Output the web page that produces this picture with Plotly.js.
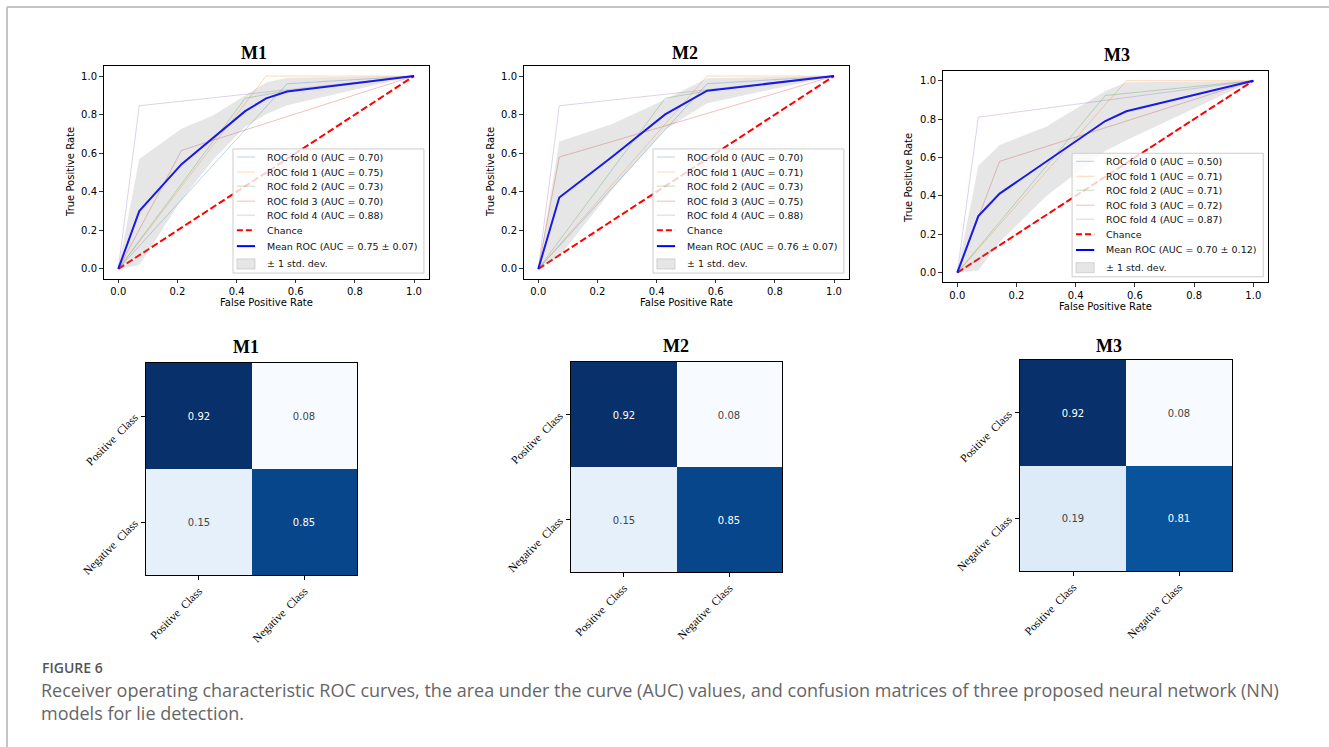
<!DOCTYPE html>
<html>
<head>
<meta charset="utf-8">
<script src="https://cdn.plot.ly/plotly-3.0.1.min.js"></script>
<style>
html,body{margin:0;padding:0;background:#fff;}
#chart{width:1329px;height:747px;}
</style>
</head>
<body>
<div id="chart"></div>
<script>
// ---------------- DATA ----------------
const models = ["M1", "M2", "M3"];
const rocTicks = [0, 0.2, 0.4, 0.6, 0.8, 1.0];
const rocTickText = ["0.0", "0.2", "0.4", "0.6", "0.8", "1.0"];

// M1 folds
const m1FoldFpr = [[0, 0.571, 1], [0, 0.5, 1], [0, 0.429, 0.571, 1], [0, 0.214, 1], [0, 0.071, 1]];
const m1FoldTpr = [[0, 0.96, 1], [0, 1, 1], [0, 0.885, 0.923, 1], [0, 0.615, 1], [0, 0.846, 1]];
const m1FoldAuc = ["0.70", "0.75", "0.73", "0.70", "0.88"];
const m1MeanFpr = [0, 0.071, 0.214, 0.32, 0.429, 0.5, 0.571, 0.8, 1];
const m1MeanTpr = [0, 0.30, 0.543, 0.679, 0.818, 0.884, 0.92, 0.963, 1];
const m1Upper   = [0, 0.57, 0.727, 0.795, 0.899, 0.966, 0.991, 0.996, 1];
const m1Lower   = [0, 0.02, 0.359, 0.565, 0.737, 0.802, 0.849, 0.93, 1];
const m1MeanAuc = "0.75 ± 0.07";

// M2 folds
const m2FoldFpr = [[0, 0.571, 1], [0, 0.571, 1], [0, 0.429, 0.571, 1], [0, 0.071, 1], [0, 0.071, 1]];
const m2FoldTpr = [[0, 0.96, 1], [0, 1, 1], [0, 0.885, 0.923, 1], [0, 0.58, 1], [0, 0.846, 1]];
const m2FoldAuc = ["0.70", "0.71", "0.73", "0.75", "0.88"];
const m2MeanFpr = [0, 0.071, 0.25, 0.429, 0.571, 0.8, 1];
const m2MeanTpr = [0, 0.37, 0.582, 0.801, 0.924, 0.964, 1];
const m2Upper   = [0, 0.661, 0.752, 0.879, 0.989, 0.995, 1];
const m2Lower   = [0, 0.065, 0.412, 0.723, 0.859, 0.933, 1];
const m2MeanAuc = "0.76 ± 0.07";

// M3 folds
const m3FoldFpr = [[0, 1], [0, 0.571, 1], [0, 0.5, 1], [0, 0.143, 1], [0, 0.071, 1]];
const m3FoldTpr = [[0, 1], [0, 1, 1], [0, 0.923, 1], [0, 0.58, 1], [0, 0.81, 1]];
const m3FoldAuc = ["0.50", "0.71", "0.71", "0.72", "0.87"];
const m3MeanFpr = [0, 0.071, 0.143, 0.3, 0.5, 0.571, 0.8, 1];
const m3MeanTpr = [0, 0.295, 0.412, 0.579, 0.79, 0.841, 0.925, 1];
const m3Upper   = [0, 0.557, 0.665, 0.76, 0.946, 0.992, 0.995, 1];
const m3Lower   = [0, 0.013, 0.159, 0.398, 0.634, 0.69, 0.855, 1];
const m3MeanAuc = "0.70 ± 0.12";

const chanceX = [0, 1];
const chanceY = [0, 1];

// Confusion matrices (rows: true class, cols: predicted class)
const classLabels = ["Positive Class", "Negative Class"];
const cmM1 = [[0.92, 0.08], [0.15, 0.85]];
const cmM2 = [[0.92, 0.08], [0.15, 0.85]];
const cmM3 = [[0.92, 0.08], [0.19, 0.81]];

const captionHead = "FIGURE 6";
const captionLine1 = "Receiver operating characteristic ROC curves, the area under the curve (AUC) values, and confusion matrices of three proposed neural network (NN)";
const captionLine2 = "models for lie detection.";

// ---------------- STYLE / LAYOUT ----------------
const W = 1329, H = 747;
const px = v => v / W;
const py = v => 1 - v / H;
const foldColors = ["#1f77b4", "#ff7f0e", "#2ca02c", "#d62728", "#9467bd"];
const blues = [[0, "#f7fbff"], [0.125, "#deebf7"], [0.25, "#c6dbef"], [0.375, "#9ecae1"], [0.5, "#6baed6"],
               [0.625, "#4292c6"], [0.75, "#2171b5"], [0.875, "#08519c"], [1, "#08306b"]];

const rocBoxes = [
  {x0: 103.5, x1: 428.8, y0: 66.4, y1: 278.6},
  {x0: 523.5, x1: 848.8, y0: 66.4, y1: 278.6},
  {x0: 942.5, x1: 1268.1, y0: 71.1, y1: 282.3}
];
const cmBoxes = [
  {x0: 146, x1: 357, y0: 363, y1: 575},
  {x0: 571, x1: 782, y0: 362, y1: 572},
  {x0: 1020, x1: 1232, y0: 360, y1: 571}
];
const rocTitlePos = [[254, 53], [685, 53], [1117, 55]];
const cmTitlePos = [[246, 347], [676, 346], [1109, 346]];
const xTitlePos = [[266, 303], [686, 303], [1105, 306]];
const yTitlePos = [[71, 172], [491, 172], [909, 178]];

const rocData = [
  {fpr: m1FoldFpr, tpr: m1FoldTpr, auc: m1FoldAuc, mf: m1MeanFpr, mt: m1MeanTpr, up: m1Upper, lo: m1Lower, mauc: m1MeanAuc},
  {fpr: m2FoldFpr, tpr: m2FoldTpr, auc: m2FoldAuc, mf: m2MeanFpr, mt: m2MeanTpr, up: m2Upper, lo: m2Lower, mauc: m2MeanAuc},
  {fpr: m3FoldFpr, tpr: m3FoldTpr, auc: m3FoldAuc, mf: m3MeanFpr, mt: m3MeanTpr, up: m3Upper, lo: m3Lower, mauc: m3MeanAuc}
];
const cms = [cmM1, cmM2, cmM3];

const traces = [];
const layout = {
  width: W, height: H,
  margin: {l: 0, r: 0, t: 0, b: 0},
  paper_bgcolor: "#fff", plot_bgcolor: "#fff",
  showlegend: false,
  shapes: [], annotations: []
};

const tickFont = {family: "DejaVu Sans", size: 10, color: "#000"};
const legFont = {family: "DejaVu Sans", size: 9.5, color: "#111"};

rocData.forEach((d, i) => {
  const n = i + 1;
  const xa = "x" + n, ya = "y" + n;
  const b = rocBoxes[i];
  d.fpr.forEach((f, k) => {
    traces.push({type: "scatter", mode: "lines", x: f, y: d.tpr[k], xaxis: xa, yaxis: ya,
      line: {color: foldColors[k], width: 1}, opacity: 0.3, hoverinfo: "skip"});
  });
  traces.push({type: "scatter", mode: "lines", x: chanceX, y: chanceY, xaxis: xa, yaxis: ya,
    line: {color: "#ff0000", width: 2, dash: "7px,3px"}, hoverinfo: "skip"});
  traces.push({type: "scatter", mode: "lines", x: d.mf, y: d.mt, xaxis: xa, yaxis: ya,
    line: {color: "#0000ff", width: 2}, hoverinfo: "skip"});
  traces.push({type: "scatter", mode: "lines", x: d.mf, y: d.lo, xaxis: xa, yaxis: ya,
    line: {width: 0, color: "rgba(0,0,0,0)"}, hoverinfo: "skip"});
  traces.push({type: "scatter", mode: "lines", x: d.mf, y: d.up, xaxis: xa, yaxis: ya,
    line: {width: 0, color: "rgba(0,0,0,0)"}, fill: "tonexty", fillcolor: "rgba(128,128,128,0.2)", hoverinfo: "skip"});

  const axCommon = {range: [-0.05, 1.05], tickvals: rocTicks, ticktext: rocTickText, ticks: "outside",
    ticklen: 3.5, tickwidth: 0.8, tickcolor: "#000", showline: true, mirror: true, linecolor: "#000",
    linewidth: 1, showgrid: false, zeroline: false, tickfont: tickFont, automargin: false, fixedrange: true};
  layout["xaxis" + n] = Object.assign({}, axCommon, {domain: [px(b.x0), px(b.x1)], anchor: ya});
  layout["yaxis" + n] = Object.assign({}, axCommon, {domain: [py(b.y1), py(b.y0)], anchor: xa});

  // titles
  layout.annotations.push({text: "<b>" + models[i] + "</b>", xref: "paper", yref: "paper",
    x: px(rocTitlePos[i][0]), y: py(rocTitlePos[i][1]), xanchor: "center", yanchor: "middle",
    showarrow: false, font: {family: "Liberation Serif", size: 18, color: "#000"}});
  layout.annotations.push({text: "False Positive Rate", xref: "paper", yref: "paper",
    x: px(xTitlePos[i][0]), y: py(xTitlePos[i][1]), xanchor: "center", yanchor: "middle",
    showarrow: false, font: tickFont});
  layout.annotations.push({text: "True Positive Rate", xref: "paper", yref: "paper",
    x: px(yTitlePos[i][0]), y: py(yTitlePos[i][1]), xanchor: "center", yanchor: "middle",
    textangle: -90, showarrow: false, font: tickFont});

  // manual legend (matplotlib style)
  const xr = xa + " domain", yr = ya + " domain";
  layout.shapes.push({type: "rect", xref: xr, yref: yr, x0: 0.398, x1: 0.985, y0: 0.026, y1: 0.611,
    fillcolor: "rgba(255,255,255,0.8)", line: {color: "#cccccc", width: 1}, layer: "above"});
  const entryY = [0.573, 0.502, 0.436, 0.365, 0.299, 0.228, 0.153, 0.069];
  const labels = d.auc.map((a, k) => "ROC fold " + k + " (AUC = " + a + ")")
    .concat(["Chance", "Mean ROC (AUC = " + d.mauc + ")", "± 1 std. dev."]);
  labels.forEach((t, k) => {
    const yy = entryY[k];
    if (k < 5) {
      layout.shapes.push({type: "line", xref: xr, yref: yr, x0: 0.41, x1: 0.466, y0: yy, y1: yy,
        line: {color: foldColors[k], width: 1}, opacity: 0.3});
    } else if (k === 5) {
      layout.shapes.push({type: "line", xref: xr, yref: yr, x0: 0.41, x1: 0.466, y0: yy, y1: yy,
        line: {color: "#ff0000", width: 2, dash: "6px,3px"}});
    } else if (k === 6) {
      layout.shapes.push({type: "line", xref: xr, yref: yr, x0: 0.41, x1: 0.466, y0: yy, y1: yy,
        line: {color: "#0000ff", width: 2}});
    } else {
      layout.shapes.push({type: "rect", xref: xr, yref: yr, x0: 0.41, x1: 0.466, y0: yy - 0.024, y1: yy + 0.024,
        fillcolor: "rgba(128,128,128,0.2)", line: {color: "rgba(128,128,128,0.25)", width: 1}});
    }
    layout.annotations.push({text: t, xref: xr, yref: yr, x: 0.4965, y: yy, xanchor: "left", yanchor: "middle",
      showarrow: false, font: legFont});
  });
});

const classTickText = classLabels.map(s => s.replace(" ", "\u00a0 "));
cms.forEach((z, i) => {
  const n = i + 4;
  const xa = "x" + n, ya = "y" + n;
  const b = cmBoxes[i];
  const flat = z.flat();
  traces.push({type: "heatmap", z: z, x: classLabels, y: classLabels, xaxis: xa, yaxis: ya,
    colorscale: blues, zmin: Math.min(...flat), zmax: Math.max(...flat), showscale: false,
    texttemplate: "%{z:.2f}", textfont: {family: "DejaVu Sans", size: 10}, hoverinfo: "skip"});
  const axc = {ticks: "outside", ticklen: 4, tickwidth: 1, tickcolor: "#000", showline: true, mirror: true,
    linecolor: "#000", linewidth: 1, showgrid: false, zeroline: false, tickangle: -45,
    tickvals: classLabels, ticktext: classTickText,
    tickfont: {family: "Liberation Serif", size: 11.5, color: "#000"}, automargin: false, fixedrange: true};
  layout["xaxis" + n] = Object.assign({}, axc, {domain: [px(b.x0), px(b.x1)], anchor: ya, ticklabelstandoff: 0});
  layout["yaxis" + n] = Object.assign({}, axc, {domain: [py(b.y1), py(b.y0)], anchor: xa, autorange: "reversed", ticklabelstandoff: 4});
  layout.annotations.push({text: "<b>" + models[i] + "</b>", xref: "paper", yref: "paper",
    x: px(cmTitlePos[i][0]), y: py(cmTitlePos[i][1]), xanchor: "center", yanchor: "middle",
    showarrow: false, font: {family: "Liberation Serif", size: 18, color: "#000"}});
});

// caption
layout.annotations.push({text: captionHead, xref: "paper", yref: "paper", x: px(40), y: py(667),
  xanchor: "left", yanchor: "middle", showarrow: false,
  font: {family: "Open Sans", size: 14, color: "#555", weight: 600}});
layout.annotations.push({text: captionLine1, xref: "paper", yref: "paper", x: px(39), y: py(690),
  xanchor: "left", yanchor: "middle", showarrow: false,
  font: {family: "Open Sans", size: 18, color: "#666"}});
layout.annotations.push({text: captionLine2, xref: "paper", yref: "paper", x: px(39), y: py(713),
  xanchor: "left", yanchor: "middle", showarrow: false,
  font: {family: "Open Sans", size: 18, color: "#666"}});

// page frame lines
layout.shapes.push({type: "line", xref: "paper", yref: "paper", x0: px(7), x1: 1, y0: py(7), y1: py(7),
  line: {color: "#c4c4c4", width: 2}});
layout.shapes.push({type: "line", xref: "paper", yref: "paper", x0: px(7), x1: px(7), y0: py(7), y1: 0,
  line: {color: "#c4c4c4", width: 2}});

Plotly.newPlot("chart", traces, layout, {staticPlot: true, displayModeBar: false});
</script>
</body>
</html>
